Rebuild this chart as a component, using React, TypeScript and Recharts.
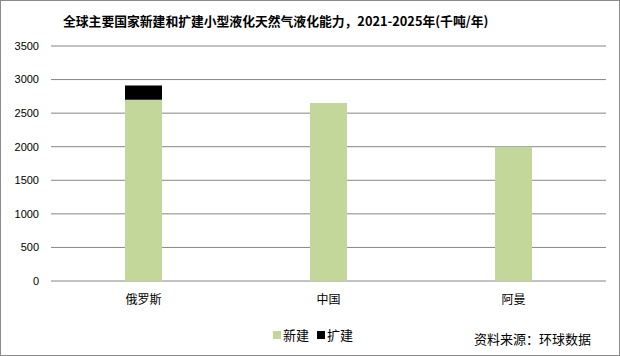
import { BarChart, Bar, XAxis, YAxis, CartesianGrid } from "recharts"

const countries = ["俄罗斯", "中国", "阿曼"]
const newBuild = [2700, 2650, 2000]
const expansion = [210, 0, 0]
const yTicks = [0, 500, 1000, 1500, 2000, 2500, 3000, 3500]
const seriesNames = ["新建", "扩建"]
const seriesColors = ["#c4d79b", "#000000"]

const data = countries.map((name, i) => ({
  name,
  新建: newBuild[i],
  扩建: expansion[i],
}))

const font = "'Noto Sans CJK SC', 'Liberation Sans', sans-serif"

export default function App() {
  return (
    <div
      style={{
        position: "absolute",
        left: 0,
        top: 0,
        width: 620,
        height: 356,
        boxSizing: "border-box",
        border: "1px solid #8c8c8c",
        background: "#fff",
        fontFamily: font,
      }}
    >
      <div
        style={{
          position: "absolute",
          top: 10,
          left: 62,
          whiteSpace: "nowrap",
          fontSize: 12.8,
          fontWeight: "bold",
          color: "#000",
        }}
      >
        全球主要国家新建和扩建小型液化天然气液化能力，2021-2025年(千吨/年)
      </div>
      <BarChart
        width={618}
        height={354}
        data={data}
        margin={{ top: 45, right: 13, bottom: 44, left: 0 }}
        style={{ position: "absolute", left: 0, top: 0 }}
      >
        <CartesianGrid vertical={false} stroke="#868686" strokeWidth={1} />
        <XAxis
          dataKey="name"
          height={30}
          axisLine={false}
          tickLine={false}
          tickMargin={8}
          tick={{ fontSize: 12, fill: "#000", fontFamily: font }}
        />
        <YAxis
          width={50}
          domain={[0, 3500]}
          ticks={yTicks}
          axisLine={false}
          tickLine={false}
          tickMargin={6}
          tick={{ fontSize: 11, fill: "#000", fontFamily: "'Liberation Sans', sans-serif" }}
        />
        <Bar dataKey="新建" stackId="a" fill={seriesColors[0]} barSize={37} isAnimationActive={false} />
        <Bar dataKey="扩建" stackId="a" fill={seriesColors[1]} barSize={37} isAnimationActive={false} />
      </BarChart>
      <div
        style={{
          position: "absolute",
          left: 272,
          top: 324,
          display: "flex",
          gap: 8,
          fontSize: 13,
          color: "#000",
        }}
      >
        {seriesNames.map((s, i) => (
          <div key={s} style={{ display: "flex", alignItems: "center" }}>
            <span style={{ width: 8, height: 8, background: seriesColors[i], marginRight: 2 }} />
            {s}
          </div>
        ))}
      </div>
      <div
        style={{
          position: "absolute",
          left: 473,
          top: 328,
          fontSize: 13,
          color: "#000",
        }}
      >
        资料来源：环球数据
      </div>
    </div>
  )
}
